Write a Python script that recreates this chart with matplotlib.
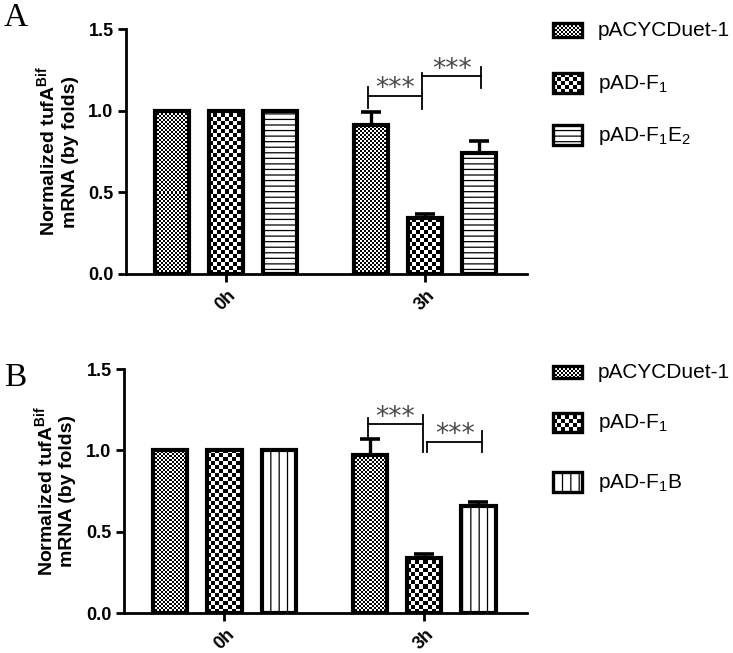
import numpy as np
import matplotlib
matplotlib.use("Agg")
import matplotlib.pyplot as plt
from matplotlib.patches import Rectangle
from matplotlib.transforms import ScaledTranslation

plt.rcParams['font.family'] = ['Liberation Sans', 'DejaVu Sans']
plt.rcParams['mathtext.fontset'] = 'custom'
plt.rcParams['mathtext.rm'] = 'Liberation Sans'
plt.rcParams['mathtext.bf'] = 'Liberation Sans:bold'
plt.rcParams['mathtext.it'] = 'Liberation Sans:italic'
plt.rcParams['hatch.linewidth'] = 0.9

# ---------------- data ----------------
categories = ['0h', '3h']

series_A = ['pACYCDuet-1', 'pAD-F$_{\\mathrm{1}}$', 'pAD-F$_{\\mathrm{1}}$E$_{\\mathrm{2}}$']
means_A_pacyc = [1.0, 0.91]
means_A_f1 = [1.0, 0.34]
means_A_f1e2 = [1.0, 0.74]
err_A_pacyc = [0.0, 0.08]
err_A_f1 = [0.0, 0.03]
err_A_f1e2 = [0.0, 0.075]

series_B = ['pACYCDuet-1', 'pAD-F$_{\\mathrm{1}}$', 'pAD-F$_{\\mathrm{1}}$B']
means_B_pacyc = [1.0, 0.97]
means_B_f1 = [1.0, 0.34]
means_B_f1b = [1.0, 0.66]
err_B_pacyc = [0.0, 0.10]
err_B_f1 = [0.0, 0.02]
err_B_f1b = [0.0, 0.025]

sig_label = '***'
ylabel = 'Normalized tufA$^{\\mathbf{Bif}}$\nmRNA (by folds)'
yticks = [0.0, 0.5, 1.0, 1.5]

# ---------------- styling ----------------
W, H = 733, 653
fig = plt.figure(figsize=(W / 100, H / 100), dpi=100)

offsets = [-0.272, 0.0, 0.272]
bar_w = 0.171
edge_lw = 3.0


def add_checker(ax, x0, x1, y0, y1, cell, clip, z=2.5):
    p0 = ax.transData.transform((x0, y0))
    p1 = ax.transData.transform((x1, y1))
    w = max(int(round(abs(p1[0] - p0[0]))), 1)
    h = max(int(round(abs(p1[1] - p0[1]))), 1)
    yy, xx = np.mgrid[0:h, 0:w]
    arr = ((xx // cell + yy // cell) % 2).astype(float)
    im = ax.imshow(arr, cmap='gray', vmin=0, vmax=1, extent=(x0, x1, y0, y1),
                   origin='lower', interpolation='nearest', aspect='auto', zorder=z)
    im.set_clip_path(clip)
    return im


def make_panel(rect, means, errs, patterns, brackets):
    ax = fig.add_axes(rect)
    x = np.arange(len(categories))
    ax.set_xlim(-0.503, 1.515)
    ax.set_ylim(0, 1.5)
    for i, (m, e, pat) in enumerate(zip(means, errs, patterns)):
        xs = x + offsets[i]
        if pat[0] == 'checker':
            bars = ax.bar(xs, m, bar_w, color='white', edgecolor='none', zorder=2)
            for b in bars:
                add_checker(ax, b.get_x(), b.get_x() + b.get_width(), 0, b.get_height(), pat[1], b)
            ax.bar(xs, m, bar_w, fill=False, edgecolor='black', linewidth=edge_lw, zorder=3)
        else:
            ax.bar(xs, m, bar_w, color='white', edgecolor='black', linewidth=edge_lw,
                   hatch=pat[1], zorder=3)
        sel = [k for k in range(len(m)) if e[k] > 0]
        ax.errorbar(xs[sel], np.array(m)[sel], yerr=[np.zeros(len(sel)), np.array(e)[sel]],
                    fmt='none', ecolor='black', elinewidth=2.4, capsize=7.5, capthick=2.6,
                    zorder=2.8)
    ax.set_xlim(-0.503, 1.515)
    ax.set_ylim(0, 1.5)
    for s in ['top', 'right']:
        ax.spines[s].set_visible(False)
    for s in ['left', 'bottom']:
        ax.spines[s].set_linewidth(2.0)
    ax.set_yticks(yticks)
    ax.set_yticklabels([f'{t:.1f}' for t in yticks], fontsize=13, fontweight='bold')
    ax.set_xticks(x)
    ax.set_xticklabels(categories, fontsize=13, fontweight='bold', rotation=45, ha='center')
    off = ScaledTranslation(-3 / 100, 0, fig.dpi_scale_trans)
    for lab in ax.get_xticklabels():
        lab.set_transform(lab.get_transform() + off)
    ax.tick_params(axis='both', width=2.0, length=6, pad=3)
    ax.set_ylabel(ylabel, fontsize=14, fontweight='bold', linespacing=1.25)
    ax.yaxis.set_label_coords(-0.118, 0.5)
    # significance brackets (group 3h)
    gx = x[1]
    for (xl, xr, y, ltick, rtick) in brackets:
        ax.plot([gx + xl, gx + xr], [y, y], color='black', lw=1.3, zorder=4)
        if ltick is not None:
            ax.plot([gx + xl, gx + xl], ltick, color='black', lw=1.3, zorder=4)
        if rtick is not None:
            ax.plot([gx + xr, gx + xr], rtick, color='black', lw=1.3, zorder=4)
        ax.annotate(sig_label, xy=(gx + (xl + xr) / 2, y), xytext=(0, -4.5),
                    textcoords='offset points', ha='center', va='bottom',
                    fontsize=19, color='#4a4a4a', family='DejaVu Sans')
    return ax


patterns_A = [('checker', 2), ('checker', 4), ('hatch', '---')]
patterns_B = [('checker', 2), ('checker', 4), ('hatch', '||')]

brackets_A = [(-0.285, -0.015, 1.09, (1.017, 1.145), (1.01, 1.23)),
              (-0.015, 0.286, 1.21, None, (1.14, 1.27))]
brackets_B = [(-0.28, -0.008, 1.16, (1.085, 1.20), (0.99, 1.22)),
              (0.015, 0.29, 1.05, (0.99, 1.05), (0.99, 1.117))]

axA = make_panel([126 / W, (H - 274) / H, 401 / W, 245 / H],
                 [means_A_pacyc, means_A_f1, means_A_f1e2],
                 [err_A_pacyc, err_A_f1, err_A_f1e2], patterns_A, brackets_A)
axB = make_panel([124 / W, (H - 613) / H, 403 / W, 244 / H],
                 [means_B_pacyc, means_B_f1, means_B_f1b],
                 [err_B_pacyc, err_B_f1, err_B_f1b], patterns_B, brackets_B)

# ---------------- legends (pixel overlay) ----------------
lg = fig.add_axes([0, 0, 1, 1])
lg.set_xlim(0, W)
lg.set_ylim(H, 0)
lg.axis('off')


def legend_block(names, patterns, rows):
    for name, pat, (cy, h) in zip(names, patterns, rows):
        x0, x1 = 553, 582
        y0, y1 = cy - h / 2, cy + h / 2
        if pat[0] == 'checker':
            bg = Rectangle((x0, y0), x1 - x0, y1 - y0, facecolor='white', edgecolor='none', zorder=2)
            lg.add_patch(bg)
            add_checker(lg, x0, x1, y1, y0, pat[1], bg)
            lg.add_patch(Rectangle((x0, y0), x1 - x0, y1 - y0, fill=False,
                                   edgecolor='black', linewidth=2.4, zorder=3))
        else:
            lg.add_patch(Rectangle((x0, y0), x1 - x0, y1 - y0, facecolor='white',
                                   edgecolor='black', linewidth=2.4, hatch=pat[1], zorder=3))
        lg.text(598, cy + 1, name, fontsize=15, va='center', ha='left')
    lg.set_xlim(0, W)
    lg.set_ylim(H, 0)


legend_block(series_A, patterns_A, [(30, 14), (83, 20), (135, 20)])
legend_block(series_B, patterns_B, [(372, 12), (422, 19), (482, 20)])

fig.text(4 / W, 1 - 26 / H, 'A', fontsize=24, family='Liberation Serif', va='baseline', ha='left')
fig.text(4 / W, 1 - 386 / H, 'B', fontsize=24, family='Liberation Serif', va='baseline', ha='left')

fig.savefig('out.png', dpi=100)
